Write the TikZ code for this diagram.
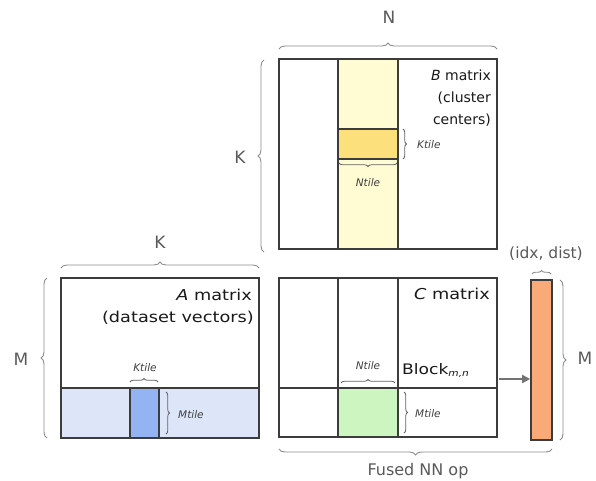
\documentclass[tikz,border=0pt]{standalone}
\usepackage{fontspec}
\setmainfont{DejaVu Sans}
\newfontfamily\widefont[FakeStretch=1.18]{DejaVu Sans}
\usetikzlibrary{decorations.pathreplacing,arrows.meta}
\definecolor{linec}{HTML}{3C3C3C}
\definecolor{bracec}{HTML}{8C8C8C}
\definecolor{labelc}{HTML}{5A5A5A}
\definecolor{ylight}{HTML}{FFFCD4}
\definecolor{ydark}{HTML}{FBE07C}
\definecolor{blight}{HTML}{DCE6F8}
\definecolor{bdark}{HTML}{93B3F2}
\definecolor{glight}{HTML}{CDF5C0}
\definecolor{orangec}{HTML}{F9AA78}
\begin{document}
\begin{tikzpicture}[x=1pt,y=-1pt,
  grid/.style={draw=linec,line width=1.2pt},
  bigbrace/.style={draw=bracec,line width=0.9pt,decorate,decoration={brace,amplitude=6pt}},
  smallbrace/.style={draw=linec!80,line width=0.8pt,decorate,decoration={brace,amplitude=3.5pt}},
  dimlabel/.style={text=labelc,font=\fontsize{17}{20}\selectfont,inner sep=0pt},
  title/.style={text=black!90,inner sep=0pt,anchor=base east},
  tilelabel/.style={text=black!75,font=\fontsize{10.5}{12}\selectfont\itshape,inner sep=0pt},
  arr/.style={draw=black!55,line width=1.6pt,-{Triangle[length=8pt,width=8pt]}}]
\useasboundingbox (0,0) rectangle (596,480);
\fill[white] (0,0) rectangle (596,480);

% ---------- B matrix ----------
\fill[ylight] (338,59) rectangle (398,249);
\fill[ydark] (338,129) rectangle (398,159);
\draw[grid] (279,59) rectangle (497,249);
\draw[grid] (338,59) -- (338,249) (398,59) -- (398,249);
\draw[grid] (338,129) -- (398,129) (338,159) -- (398,159);
\node[title,font=\fontsize{14}{16}\selectfont] (Bt1) at (491,80) {\textit{B} matrix};
\node[title,font=\fontsize{14}{16}\selectfont] (Bt2) at (491,102) {(cluster};
\node[title,font=\fontsize{14}{16}\selectfont] (Bt3) at (491,124) {centers)};
\draw[smallbrace] (403,129) -- (403,159);
\node[tilelabel,anchor=west] (BK) at (417,145) {Ktile};
\draw[smallbrace] (397,163) -- (339,163);
\node[tilelabel] (BN) at (368,183) {Ntile};

% B braces
\draw[bigbrace] (279,49) -- (497,49);
\node[dimlabel] (N) at (389,17) {N};
\draw[bigbrace] (264,252) -- (264,60);
\node[dimlabel] (KB) at (240,157) {K};

% ---------- A matrix ----------
\fill[blight] (61,388) rectangle (259,438);
\fill[bdark] (130,388) rectangle (159,438);
\draw[grid] (61,278) rectangle (259,438);
\draw[grid] (61,388) -- (259,388);
\draw[grid] (130,388) -- (130,438) (159,388) -- (159,438);
\node[title,font=\widefont\fontsize{15}{17}\selectfont] (At1) at (252,300) {\textit{A} matrix};
\node[title,font=\widefont\fontsize{15}{17}\selectfont] (At2) at (254,322.5) {(dataset vectors)};
\draw[smallbrace] (130,382) -- (158,382);
\node[tilelabel] (AK) at (145,368) {Ktile};
\draw[smallbrace] (166,392) -- (166,434);
\node[tilelabel,anchor=west] (AM) at (178,415) {Mtile};

% A braces
\draw[bigbrace] (61,268) -- (259,268);
\node[dimlabel] (KA) at (160,242) {K};
\draw[bigbrace] (47,438) -- (47,278);
\node[dimlabel] (MA) at (21,359) {M};

% ---------- C matrix ----------
\fill[glight] (338,388) rectangle (398,437);
\node[grid,minimum width=218pt,minimum height=159pt,inner sep=0pt] (Cbox) at (388,357.5) {};
\draw[grid] (338,278) -- (338,437) (398,278) -- (398,437);
\draw[grid] (279,388) -- (497,388);
\node[title,font=\widefont\fontsize{15}{17}\selectfont] (Ct) at (490,299) {\textit{C} matrix};
\draw[smallbrace] (341,383) -- (395,383);
\node[tilelabel] (CN) at (368,366) {Ntile};
\node[inner sep=0pt,anchor=base west,text=black!90,font=\widefont\fontsize{14.5}{16}\selectfont] (Blk) at (402,374) {Block\textsubscript{\fontsize{9}{10}\selectfont\itshape m,n}};
\draw[smallbrace] (404,392) -- (404,433);
\node[tilelabel,anchor=west] (CM) at (415,414) {Mtile};

% ---------- result vector ----------
\node[draw=linec,line width=1.6pt,fill=orangec,minimum width=21pt,minimum height=160pt,inner sep=0pt] (bar) at (541.5,360) {};
\coordinate (arrS) at (499,379);
\draw[arr] (arrS) -- (bar.west |- arrS);
\draw[bigbrace,decoration={brace,amplitude=3.5pt}] (532,274) -- (551,274);
\node[dimlabel,font=\fontsize{15.5}{18}\selectfont] (idx) at (546,254) {(idx, dist)};
\draw[bigbrace] (560,280) -- (560,440);
\node[dimlabel] (MR) at (585,358) {M};

% bottom brace
\draw[bigbrace] (552,449) -- (279,449);
\node[dimlabel,font=\fontsize{16}{19}\selectfont] (fused) at (418,471) {Fused NN op};
\end{tikzpicture}
\end{document}
